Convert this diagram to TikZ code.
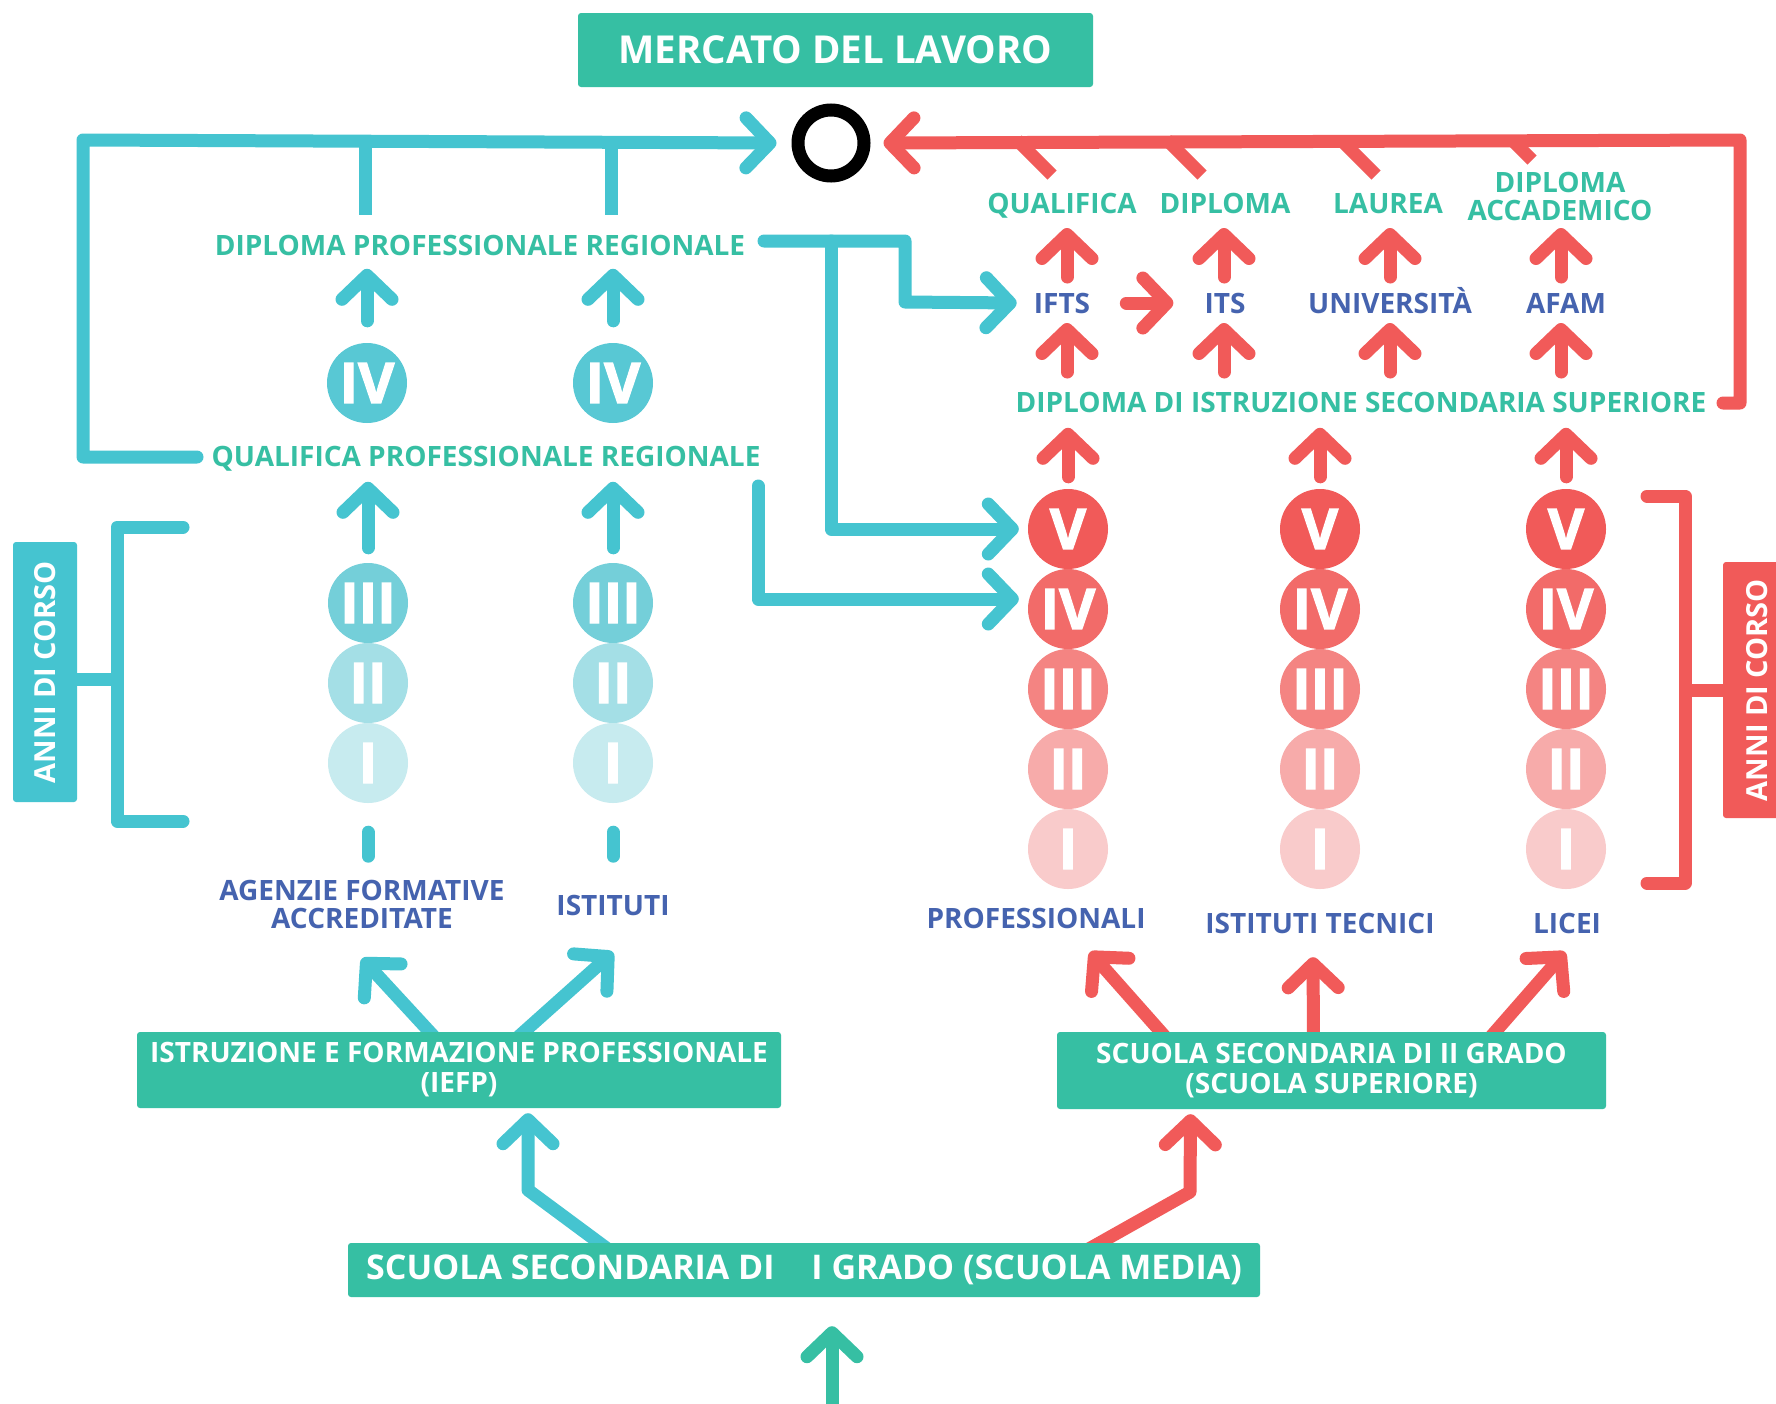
\documentclass[tikz,border=0pt]{standalone}
\usepackage{fontspec}
\setmainfont{Open Sans}
\usetikzlibrary{arrows.meta,backgrounds}
\definecolor{verde}{HTML}{36BFA3}
\definecolor{ciano}{HTML}{45C4D0}
\definecolor{blu}{HTML}{4563AF}
\definecolor{ciano4}{HTML}{58C8D4}
\definecolor{ciano3}{HTML}{74CFD9}
\definecolor{ciano2}{HTML}{A4DFE6}
\definecolor{ciano1}{HTML}{C7EBEF}
\definecolor{rosso}{HTML}{F15A59}
\definecolor{rosso4}{HTML}{F26B69}
\definecolor{rosso3}{HTML}{F48482}
\definecolor{rosso2}{HTML}{F7ABAA}
\definecolor{rosso1}{HTML}{F9CBCB}
\tikzset{
  linea/.style={line width=13pt,line cap=round,line join=round},
  freccia/.style={linea,-{Straight Barb[length=24pt,width=50pt,round]}},
  moncone/.style={line width=13pt},
  titolo/.style={inner sep=0pt,font=\bfseries\fontsize{28}{28}\selectfont,text height=20pt,text depth=0pt},
  duo/.style={inner sep=0pt,font=\bfseries\fontsize{28}{28}\selectfont,align=center},
  scatola/.style={fill=verde,rounded corners=3pt,text=white,inner sep=0pt,align=center,font=\bfseries\fontsize{28}{30}\selectfont},
  anno/.style={circle,minimum size=80pt,inner sep=0pt,text=white,font=\bfseries\fontsize{56}{56}\selectfont\addfontfeature{FakeBold=2}},
  anni/.style={rotate=90,rounded corners=3pt,text=white,inner sep=0pt,font=\bfseries\fontsize{29}{29}\selectfont}
}
\begin{document}
\begin{tikzpicture}[x=1pt,y=-1pt]
  \useasboundingbox(0,0)rectangle(1776,1403);
  \node[scatola,minimum width=515pt,minimum height=74pt,font=\bfseries\fontsize{38.5}{38.5}\selectfont](mercato) at (835.5,50){MERCATO DEL LAVORO};
  \node[circle,draw,line width=13pt,minimum size=66pt,inner sep=0pt](anello) at (831,143){};
  \node[titolo,verde](dpr) at (480,245){DIPLOMA PROFESSIONALE REGIONALE};
  \node[titolo,verde](qpr) at (486,456){QUALIFICA PROFESSIONALE REGIONALE};
  \node[anno,fill=ciano4](aIV) at (367,383){IV};
  \node[anno,fill=ciano4](bIV) at (613,383){IV};
  \foreach \n/\y/\c in {III/603/ciano3,II/683/ciano2,I/763/ciano1}{
    \node[anno,fill=\c](a\n) at (368,\y){\n};
    \node[anno,fill=\c](b\n) at (613,\y){\n};
  }
  \foreach \n/\y/\c in {V/529/rosso,IV/609/rosso4,III/689/rosso3,II/769/rosso2,I/849/rosso1}{
    \node[anno,fill=\c](p\n) at (1068,\y){\n};
    \node[anno,fill=\c](t\n) at (1320,\y){\n};
    \node[anno,fill=\c](l\n) at (1566,\y){\n};
  }
  \node[duo,blu](agenzie) at (362,904){AGENZIE FORMATIVE\\ACCREDITATE};
  \node[titolo,blu](istituti) at (613,905){ISTITUTI};
  \node[titolo,blu](profess) at (1036,918){PROFESSIONALI};
  \node[titolo,blu](tecnici) at (1320,923){ISTITUTI TECNICI};
  \node[titolo,blu](licei) at (1567,923){LICEI};
  \node[titolo,verde](qualifica) at (1062,203){QUALIFICA};
  \node[titolo,verde](diploma) at (1225,203){DIPLOMA};
  \node[titolo,verde](laurea) at (1388,203){LAUREA};
  \node[duo,verde](accad) at (1560,196){DIPLOMA\\ACCADEMICO};
  \node[titolo,blu](ifts) at (1062,303){IFTS};
  \node[titolo,blu](its) at (1225,303){ITS};
  \node[titolo,blu](univ) at (1390,303){UNIVERSITÀ};
  \node[titolo,blu](afam) at (1566,303){AFAM};
  \node[titolo,verde](diss) at (1361,402.5){DIPLOMA DI ISTRUZIONE SECONDARIA SUPERIORE};
  \node[scatola,minimum width=644pt,minimum height=76pt](iefp) at (459,1070){ISTRUZIONE E FORMAZIONE PROFESSIONALE\\(IEFP)};
  \node[scatola,minimum width=549pt,minimum height=77pt](ssii) at (1331.5,1070.5){SCUOLA SECONDARIA DI II GRADO\\(SCUOLA SUPERIORE)};
  \node[scatola,minimum width=912pt,minimum height=54pt,font=\bfseries\fontsize{34}{34}\selectfont](media) at (804,1270){SCUOLA SECONDARIA DI\hspace{28pt} I GRADO (SCUOLA MEDIA)};
  \node[anni,fill=ciano,minimum width=260pt,minimum height=64pt](anni1) at (45,672){ANNI DI CORSO};
  \node[anni,fill=rosso,minimum width=256pt,minimum height=68pt](anni2) at (1757,690){ANNI DI CORSO};
  \begin{scope}[on background layer]
    \fill[white](0,0)rectangle(1776,1403);
    \draw[freccia,ciano](197,457)--(83,457)--(83,140)--([xshift=-15pt]anello.west);
    \draw[moncone,ciano](365,140)--(365,215);
    \draw[moncone,ciano](611,140)--(611,215);
    \draw[freccia,ciano](764,241)-|(905,302)--([xshift=-17pt]ifts.west);
    \draw[freccia,ciano](831,241)|-([xshift=-9pt]pV.west);
    \draw[freccia,ciano](758,486)|-([xshift=-9pt,yshift=10pt]pIV.west);
    \foreach \col in {a,b}{
      \draw[freccia,ciano]([yshift=22pt]\col IV.north)--++(0,-52);
      \draw[freccia,ciano]([yshift=15pt]\col III.north)--++(0,-66);
      \draw[linea,ciano]([yshift=-29pt]\col I.south)--++(0,24);
    }
    \draw[linea,ciano](183,527)--(117,527)--(117,821)--(183,821);
    \draw[moncone,ciano](70,679)--(117,679);
    \draw[freccia,ciano]([xshift=-22pt,yshift=-8pt]iefp.north)--([yshift=-30pt]agenzie.south);
    \draw[freccia,ciano]([xshift=56pt,yshift=-8pt]iefp.north)--([yshift=-37pt]istituti.south);
    \draw[freccia,ciano](609,1250)--(528,1190)--([xshift=69pt,yshift=-5pt]iefp.south);
    \draw[freccia,rosso](1723,403)--(1740,403)--(1740,140)--([xshift=13pt]anello.east);
    \foreach \x/\d in {1017/35,1167/35,1341/35,1512/20}\draw[moncone,rosso](\x,140)--++(\d,\d);
    \foreach \x in {1067,1224,1390,1561}{
      \draw[freccia,rosso](\x,277)--(\x,228);
      \draw[freccia,rosso](\x,372)--(\x,323);
    }
    \foreach \col in {p,t,l}\draw[freccia,rosso]([yshift=12pt]\col V.north)--++(0,-49);
    \draw[freccia,rosso]([xshift=36pt]ifts.east)--([xshift=-31pt]its.west);
    \draw[linea,rosso](1647,496)--(1685,496)--(1685,883)--(1647,883);
    \draw[moncone,rosso](1685,690)--(1730,690);
    \draw[freccia,rosso](1168,1040)--(1090,952);
    \draw[freccia,rosso]([xshift=-18pt,yshift=-8pt]ssii.north)--([xshift=-7pt,yshift=-24pt]tecnici.south);
    \draw[freccia,rosso](1488,1040)--(1565,952);
    \draw[freccia,rosso](1087,1250)--(1190,1192)--([xshift=-141pt,yshift=-5pt]ssii.south);
    \draw[freccia,verde]([xshift=28pt,yshift=-140pt]media.south)--([xshift=28pt,yshift=-29pt]media.south);
  \end{scope}
\end{tikzpicture}
\end{document}
